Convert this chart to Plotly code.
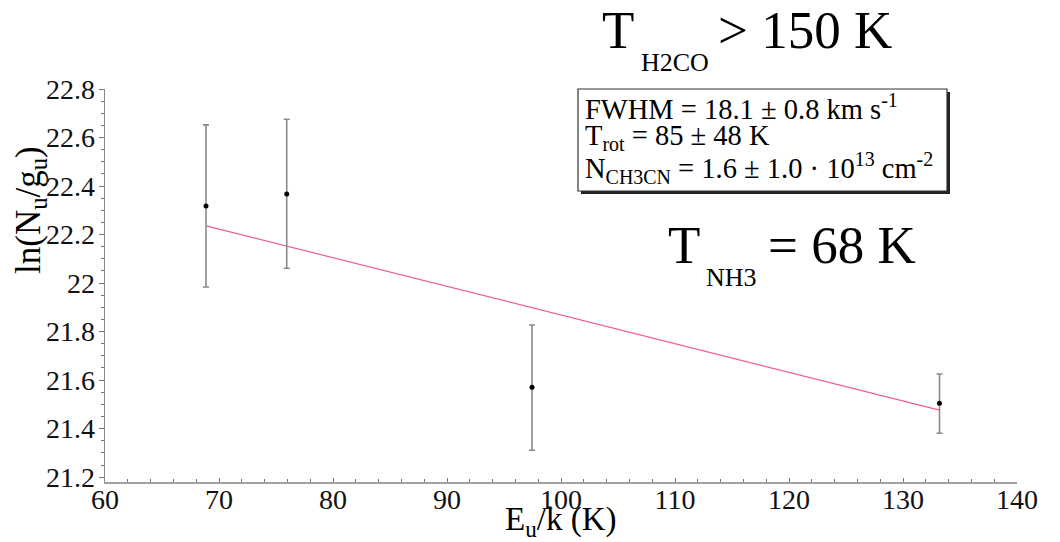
import plotly.graph_objects as go

# ---- data ----
energy_k = [68.86, 75.94, 97.46, 133.2]          # E_u/k (K)
ln_ng = [22.318, 22.367, 21.571, 21.505]         # ln(N_u/g_u)
err_plus = [0.334, 0.308, 0.256, 0.12]
err_minus = [0.334, 0.306, 0.260, 0.124]
fit_x = [68.86, 133.2]
fit_y = [22.236, 21.476]

x_ticks = [60, 70, 80, 90, 100, 110, 120, 130, 140]
y_ticks = [21.2, 21.4, 21.6, 21.8, 22, 22.2, 22.4, 22.6, 22.8]
y_ticklabels = ["21.2", "21.4", "21.6", "21.8", "22", "22.2", "22.4", "22.6", "22.8"]

W, H = 1060, 542
L, R, T, B = 105, 43, 89, 60
PW, PH = W - L - R, H - T - B
FONT = "Liberation Serif, Times New Roman, Times, serif"


def px(xpix):
    return (xpix - L) / PW


def py(ypix):
    return (H - B - ypix) / PH


fig = go.Figure()

fig.add_trace(go.Scatter(
    x=fit_x, y=fit_y, mode="lines",
    line=dict(color="rgb(240,95,135)", width=1.2),
    hoverinfo="skip", showlegend=False))

fig.add_trace(go.Scatter(
    x=energy_k, y=ln_ng, mode="markers",
    marker=dict(color="black", size=5),
    error_y=dict(type="data", symmetric=False, array=err_plus, arrayminus=err_minus,
                 color="#8a8a8a", thickness=1.6, width=3),
    showlegend=False))

fig.update_xaxes(
    range=[60, 140], tickvals=x_ticks, ticks="inside", ticklen=4, tickwidth=1,
    tickcolor="#777", showline=True, linecolor="#a0a0a0", linewidth=2,
    showgrid=False, zeroline=False, ticklabelstandoff=-9,
    minor=dict(dtick=2, ticks="inside", ticklen=3, tickcolor="#777", showgrid=False),
    tickfont=dict(family=FONT, size=28, color="#111"))

fig.update_yaxes(
    range=[21.18, 22.8], tickvals=y_ticks, ticktext=y_ticklabels,
    ticks="outside", ticklen=5, tickwidth=1, tickcolor="#777",
    showline=True, linecolor="#888", linewidth=1.5, ticklabelstandoff=-2,
    showgrid=False, zeroline=False,
    minor=dict(tickvals=[21.2 + 0.05 * i for i in range(33)], ticks="outside",
               ticklen=3, tickcolor="#777", showgrid=False),
    tickfont=dict(family=FONT, size=28, color="#111"))

shapes = [
    # shadow of the info box
    dict(type="rect", xref="paper", yref="paper",
         x0=px(581), x1=px(950), y0=py(194), y1=py(92),
         line=dict(width=0), fillcolor="#222"),
    dict(type="rect", xref="paper", yref="paper",
         x0=px(578), x1=px(947), y0=py(191), y1=py(89),
         line=dict(color="#333", width=1.2), fillcolor="white"),
]

ann = []


def txt(text, x, y, size, xanchor="left", yanchor="middle", angle=0):
    ann.append(dict(text=text, x=px(x), y=py(y), xref="paper", yref="paper",
                    xanchor=xanchor, yanchor=yanchor, showarrow=False,
                    textangle=angle, font=dict(family=FONT, size=size, color="black")))


txt("FWHM = 18.1 ± 0.8 km s<sup>-1</sup>", 583, 107, 28.5)
txt("T<sub>rot</sub> = 85 ± 48 K", 583, 138, 28.5)
txt("N<sub>CH3CN</sub> = 1.6 ± 1.0 · 10<sup>13</sup> cm<sup>-2</sup>", 583, 168, 28.5)

txt("T", 600, 30, 53)
txt("H2CO", 639, 62, 26)
txt("&gt; 150 K", 716, 30, 53)

txt("T", 666, 245, 53)
txt("NH3", 704, 277, 26)
txt("= 68 K", 766, 245, 53)

txt("ln(N<sub>u</sub>/g<sub>u</sub>)", 30, 210, 35, xanchor="center", angle=-90)
txt("E<sub>u</sub>/k (K)", 560, 521, 33, xanchor="center")

fig.update_layout(
    width=W, height=H, margin=dict(l=L, r=R, t=T, b=B, pad=0),
    paper_bgcolor="white", plot_bgcolor="white",
    font=dict(family=FONT),
    shapes=shapes, annotations=ann, showlegend=False)

fig.write_html("out.html", config={"displayModeBar": False, "staticPlot": True},
               post_script="document.body.style.margin='0';document.body.style.overflow='hidden';")
